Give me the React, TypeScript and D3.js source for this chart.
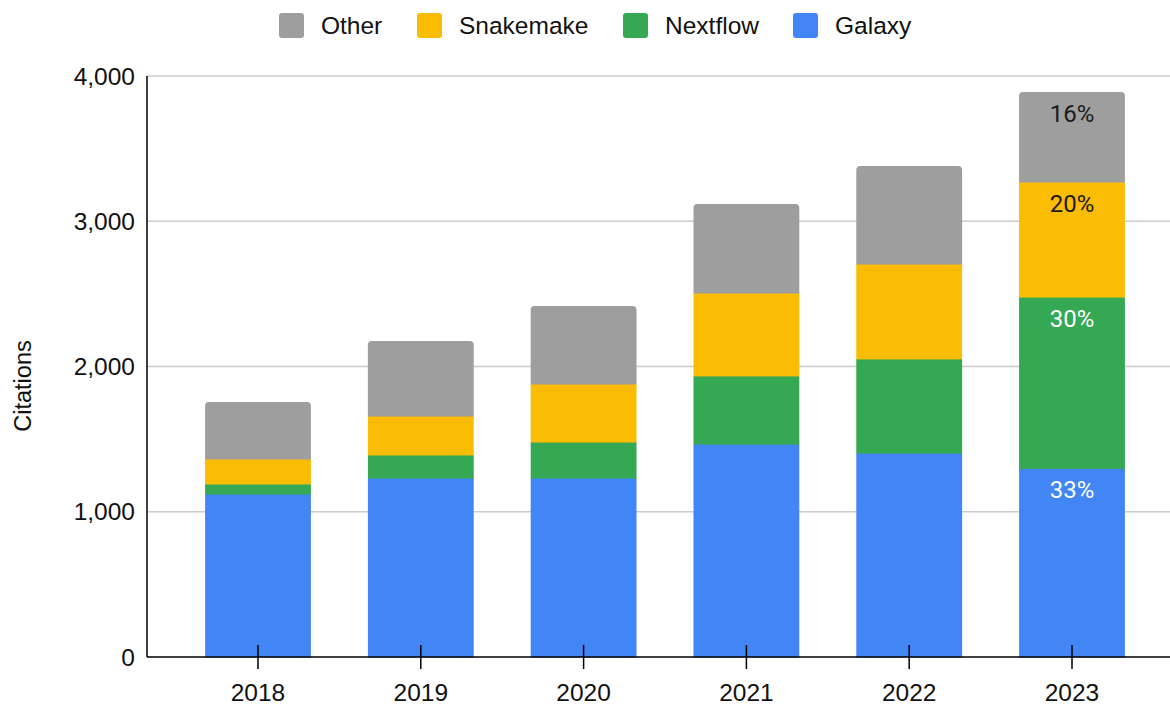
import React from "react";
import * as d3 from "d3";

const years = ["2018", "2019", "2020", "2021", "2022", "2023"];
const galaxy = [1122, 1232, 1232, 1466, 1404, 1298];
const nextflow = [69, 159, 248, 469, 648, 1180];
const snakemake = [172, 268, 400, 571, 654, 792];
const other = [393, 517, 537, 613, 674, 620];
const seriesNames = ["Galaxy", "Nextflow", "Snakemake", "Other"];
const seriesColors = ["#4285F4", "#34A853", "#FBBC04", "#9E9E9E"];
const legendOrder = ["Other", "Snakemake", "Nextflow", "Galaxy"];
const yTicks = [0, 1000, 2000, 3000, 4000];
const labelColors: Record<string, string> = { Galaxy: "#ffffff", Nextflow: "#ffffff", Snakemake: "#1a1a1a", Other: "#1a1a1a" };

const W = 1170;
const H = 705;
const left = 147;
const right = 1170;
const top = 76;
const bottom = 657;

export default function App() {
  const table = years.map((y, i) => ({
    year: y,
    Galaxy: galaxy[i],
    Nextflow: nextflow[i],
    Snakemake: snakemake[i],
    Other: other[i],
  }));
  const stack = d3.stack<any>().keys(seriesNames)(table);
  const x = d3.scaleBand<string>().domain(years).range([176.6, 1153.4]).paddingInner(0.35).paddingOuter(0.175);
  const y = d3.scaleLinear().domain([0, 4000]).range([bottom, top]);
  const font = "'Liberation Sans', Arial, Helvetica, sans-serif";
  const totals = table.map((d) => d.Galaxy + d.Nextflow + d.Snakemake + d.Other);
  const lastIdx = years.length - 1;

  const legendX = [279, 417, 623, 793];

  return (
    <svg width={W} height={H} style={{ position: "absolute", left: 0, top: 0, background: "#fff" }} fontFamily={font}>
      {yTicks.filter((t) => t > 0).map((t) => (
        <line key={t} x1={left} x2={right} y1={y(t)} y2={y(t)} stroke="#cccccc" strokeWidth={1.5} />
      ))}
      {stack.map((s, si) => (
        <g key={s.key} fill={seriesColors[si]}>
          {s.map((d, i) => {
            const x0 = x(years[i])!;
            const bw = x.bandwidth();
            const y0 = y(d[1]);
            const h = y(d[0]) - y(d[1]);
            if (si === stack.length - 1) {
              const r = 4;
              const p = `M${x0},${y0 + h + 0.5} L${x0},${y0 + r} Q${x0},${y0} ${x0 + r},${y0} L${x0 + bw - r},${y0} Q${x0 + bw},${y0} ${x0 + bw},${y0 + r} L${x0 + bw},${y0 + h + 0.5} Z`;
              return <path key={i} d={p} />;
            }
            return <rect key={i} x={x0} y={y0} width={bw} height={h + (si > 0 || true ? 0.5 : 0)} />;
          })}
        </g>
      ))}
      {stack.map((s) => {
        const d = s[lastIdx];
        const pct = Math.round(((d[1] - d[0]) / totals[lastIdx]) * 100);
        return (
          <text
            key={s.key}
            x={x(years[lastIdx])! + x.bandwidth() / 2}
            y={y(d[1]) + 30}
            textAnchor="middle"
            fontFamily="Roboto, sans-serif"
            fontSize={24}
            fill={labelColors[s.key]}
          >
            {pct}%
          </text>
        );
      })}
      <line x1={left} x2={left} y1={top} y2={bottom} stroke="#000" strokeWidth={1.5} />
      <line x1={left} x2={right} y1={bottom} y2={bottom} stroke="#000" strokeWidth={1.5} />
      {years.map((yr) => {
        const cx = x(yr)! + x.bandwidth() / 2;
        return (
          <g key={yr}>
            <line x1={cx} x2={cx} y1={645} y2={669} stroke="#000" strokeWidth={1.5} />
            <text x={cx} y={701} textAnchor="middle" fontSize={24.5} fill="#111">
              {yr}
            </text>
          </g>
        );
      })}
      {yTicks.map((t) => (
        <text key={t} x={135} y={y(t) + 8.5} textAnchor="end" fontSize={24.5} fill="#111">
          {d3.format(",")(t)}
        </text>
      ))}
      <text transform={`translate(31,386) rotate(-90)`} textAnchor="middle" fontSize={23.5} fill="#111">
        Citations
      </text>
      {legendOrder.map((name, i) => {
        const si = seriesNames.indexOf(name);
        return (
          <g key={name} transform={`translate(${legendX[i]},13)`}>
            <rect x={0} y={0} width={25} height={25} rx={3} fill={seriesColors[si]} />
            <text x={42} y={21} fontSize={24.5} fill="#111">
              {name}
            </text>
          </g>
        );
      })}
    </svg>
  );
}
